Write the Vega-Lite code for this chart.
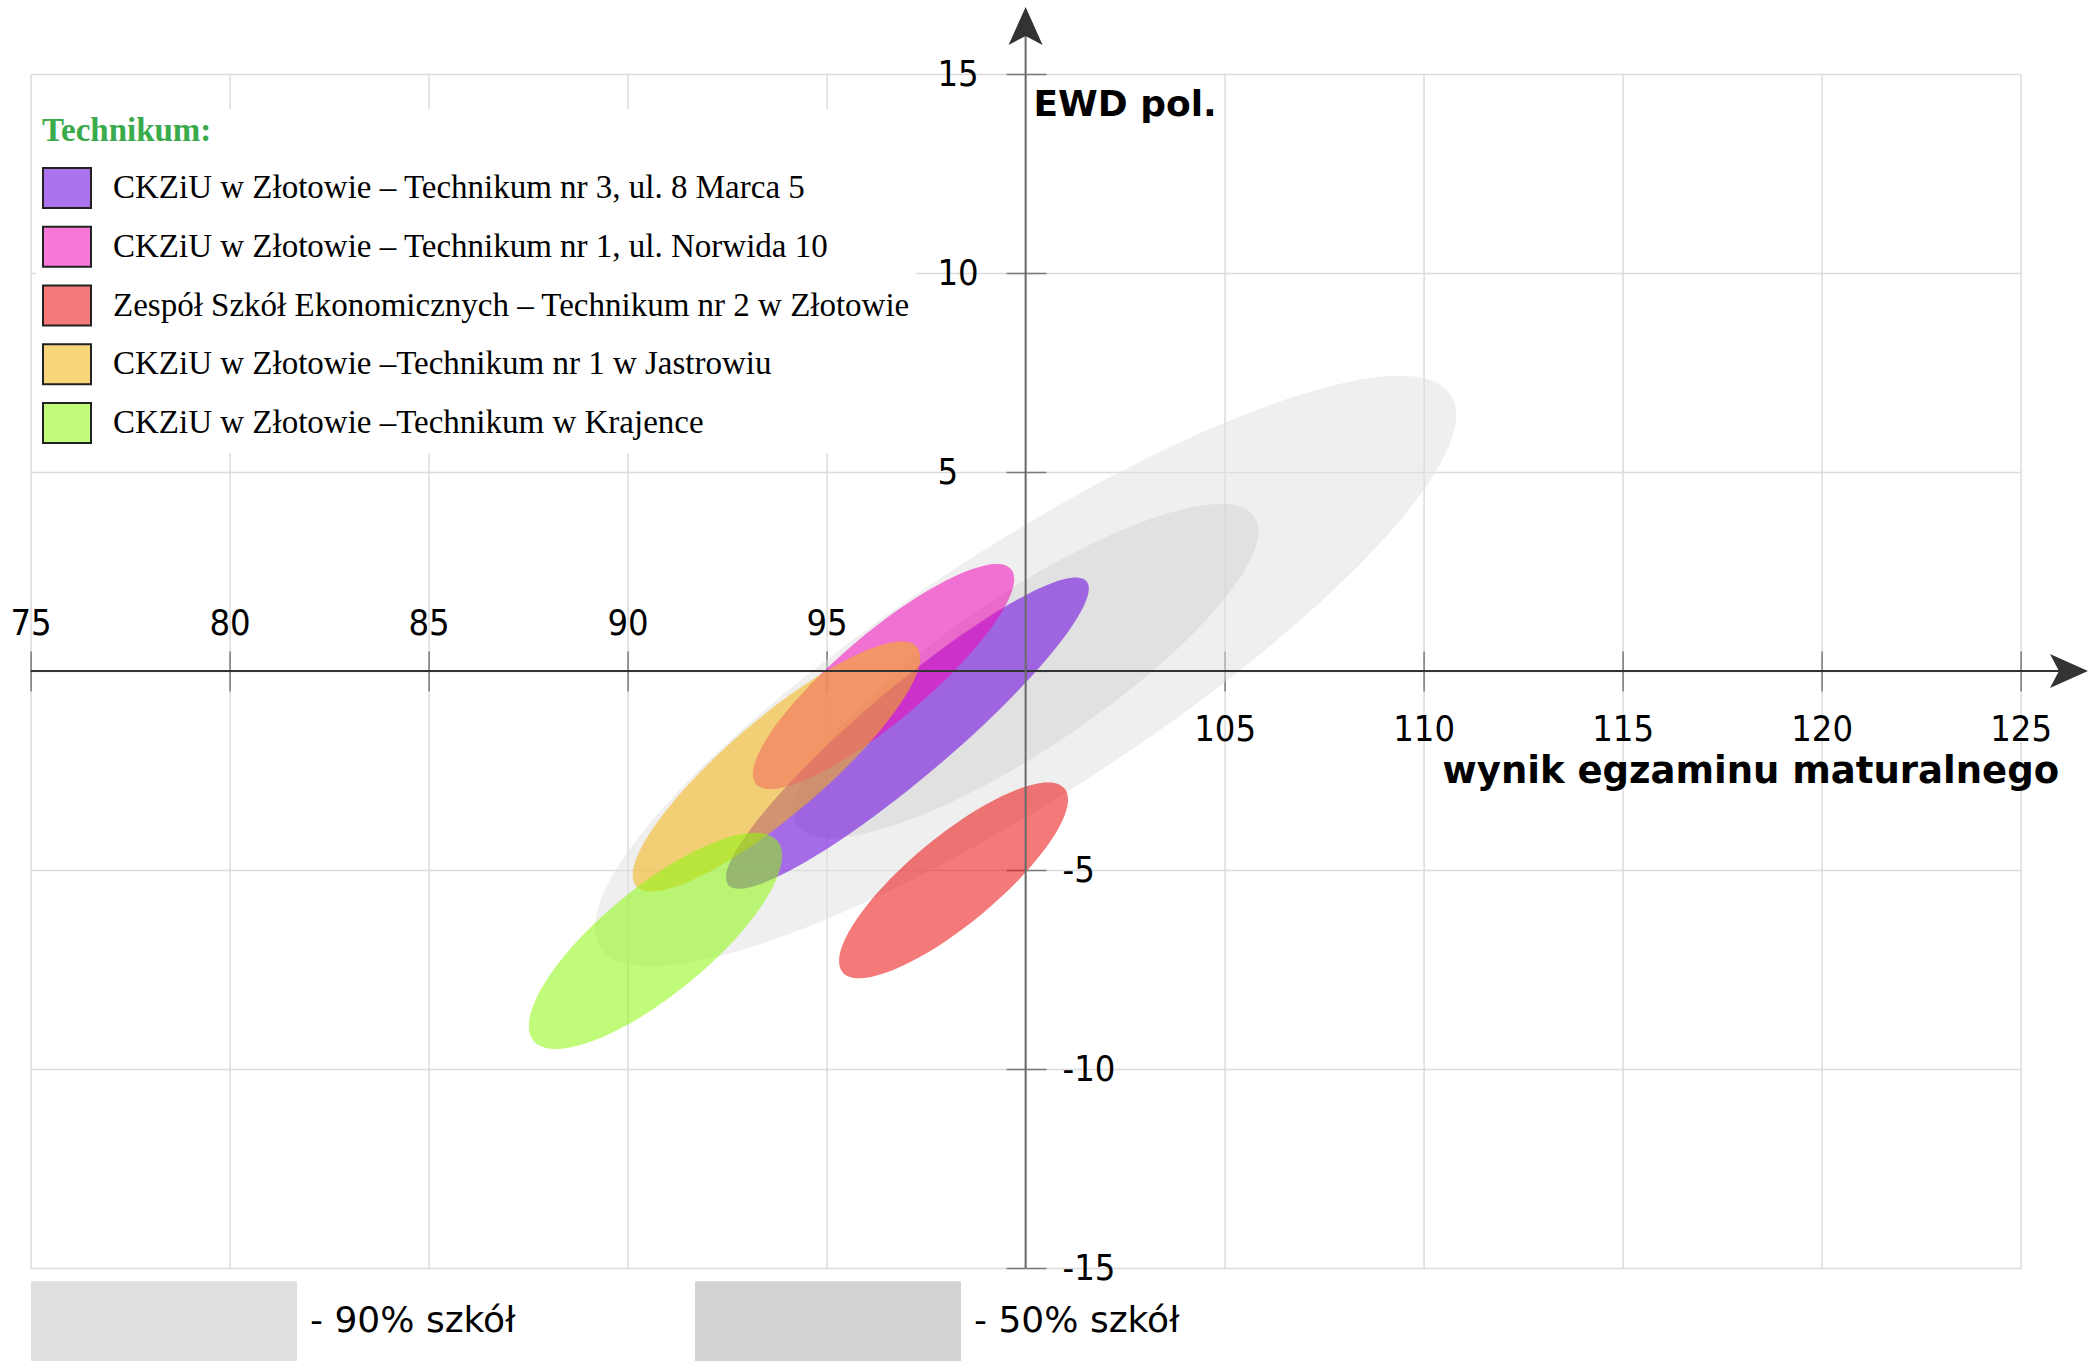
{
  "$schema": "https://vega.github.io/schema/vega-lite/v6.json",
  "width": 1990,
  "height": 1194,
  "autosize": {"type": "none"},
  "padding": {"left": 30.6, "top": 74, "right": 75.4, "bottom": 97},
  "background": "#ffffff",
  "config": {"view": {"stroke": null}},
  "datasets": {
    "obszary": [
      {"grupa": "90% szkół", "wynik": 100, "ewd": 0, "polos": 12.74, "kat": 33},
      {"grupa": "50% szkół", "wynik": 100, "ewd": 0, "polos": 6.93, "kat": 34}
    ],
    "szkoly": [
      {"szkola": "CKZiU w Złotowie – Technikum nr 3, ul. 8 Marca 5", "wynik": 97.03, "ewd": -1.56, "polos": 5.9, "kat": 40.3},
      {"szkola": "CKZiU w Złotowie – Technikum nr 1, ul. Norwida 10", "wynik": 96.43, "ewd": -0.14, "polos": 4.19, "kat": 40.1},
      {"szkola": "Zespół Szkół Ekonomicznych – Technikum nr 2 w Złotowie", "wynik": 98.19, "ewd": -5.26, "polos": 3.62, "kat": 39.6},
      {"szkola": "CKZiU w Złotowie –Technikum nr 1 w Jastrowiu", "wynik": 93.74, "ewd": -2.4, "polos": 4.63, "kat": 40.4},
      {"szkola": "CKZiU w Złotowie –Technikum w Krajence", "wynik": 90.7, "ewd": -6.78, "polos": 3.96, "kat": 39.3}
    ]
  },
  "resolve": {"axis": {"x": "independent", "y": "independent"}},
  "layer": [
    {
      "data": {"name": "obszary"},
      "mark": {"type": "point", "filled": true, "opacity": 0.5, "strokeWidth": 0},
      "encoding": {
        "x": {"field": "wynik", "type": "quantitative",
          "scale": {"domain": [75, 125], "nice": false, "zero": false},
          "axis": {"orient": "bottom", "offset": -597, "values": [75, 80, 85, 90, 95, 100, 105, 110, 115, 120, 125],
            "grid": true, "gridColor": "#dcdcdc", "gridWidth": 1.5, "domain": false,
            "ticks": true, "tickSize": 20, "tickColor": "#7a7a7a", "tickWidth": 1.5,
            "labelExpr": "datum.value > 100 ? datum.label : ''",
            "labelFont": "DejaVu Sans Condensed, DejaVu Sans", "labelFontSize": 36, "labelColor": "#000000",
            "labelBaseline": "alphabetic", "labelPadding": 49, "labelFlush": false, "labelOverlap": false,
            "title": "wynik egzaminu maturalnego", "titleFont": "DejaVu Sans", "titleFontWeight": "bold",
            "titleFontSize": 37, "titleColor": "#000000", "titleAlign": "right", "titleAnchor": null,
            "titleX": 2028, "titleY": 111, "titleBaseline": "alphabetic"}},
        "y": {"field": "ewd", "type": "quantitative",
          "scale": {"domain": [-15, 15], "nice": false, "zero": false},
          "axis": {"orient": "left", "offset": -995.4, "values": [-15, -10, -5, 0, 5, 10, 15],
            "grid": true, "gridColor": "#dcdcdc", "gridWidth": 1.5, "domain": false,
            "ticks": true, "tickSize": 20, "tickColor": "#7a7a7a", "tickWidth": 1.5,
            "labelExpr": "datum.value > 0 ? datum.label : ''",
            "labelFont": "DejaVu Sans Condensed, DejaVu Sans", "labelFontSize": 36, "labelColor": "#000000",
            "labelAlign": "left", "labelBaseline": "middle", "labelPadding": 69, "labelFlush": false, "labelOverlap": false,
            "title": "EWD pol.", "titleFont": "DejaVu Sans", "titleFontWeight": "bold",
            "titleFontSize": 36, "titleColor": "#000000", "titleAngle": 0, "titleAlign": "left", "titleAnchor": null,
            "titleX": 7, "titleY": 41, "titleBaseline": "alphabetic"}},
        "fill": {"field": "grupa", "type": "nominal",
          "scale": {"domain": ["90% szkół", "50% szkół"], "range": ["#e0e0e0", "#d3d3d3"]},
          "legend": {"orient": "none", "direction": "horizontal", "legendX": 0.4, "legendY": 1114, "title": null,
            "padding": 0, "symbolType": "M -1 -0.3 H 1 V 0.3 H -1 Z", "symbolSize": 70756, "symbolOpacity": 1,
            "symbolStrokeWidth": 0, "labelExpr": "'- ' + datum.label", "labelFont": "DejaVu Sans", "labelFontSize": 36,
            "labelColor": "#000000", "labelOffset": 13, "labelLimit": 1000, "columnPadding": 179}},
        "shape": {"field": "grupa", "type": "nominal", "legend": null,
          "scale": {"domain": ["90% szkół", "50% szkół",
            "CKZiU w Złotowie – Technikum nr 3, ul. 8 Marca 5", "CKZiU w Złotowie – Technikum nr 1, ul. Norwida 10",
            "Zespół Szkół Ekonomicznych – Technikum nr 2 w Złotowie", "CKZiU w Złotowie –Technikum nr 1 w Jastrowiu",
            "CKZiU w Złotowie –Technikum w Krajence"],
            "range": ["M -1 0 A 1 0.245 0 1 1 1 0 A 1 0.245 0 1 1 -1 0 Z",
              "M -1 0 A 1 0.279 0 1 1 1 0 A 1 0.279 0 1 1 -1 0 Z",
              "M -1 0 A 1 0.19 0 1 1 1 0 A 1 0.19 0 1 1 -1 0 Z",
              "M -1 0 A 1 0.264 0 1 1 1 0 A 1 0.264 0 1 1 -1 0 Z",
              "M -1 0 A 1 0.305 0 1 1 1 0 A 1 0.305 0 1 1 -1 0 Z",
              "M -1 0 A 1 0.26 0 1 1 1 0 A 1 0.26 0 1 1 -1 0 Z",
              "M -1 0 A 1 0.34 0 1 1 1 0 A 1 0.34 0 1 1 -1 0 Z"]}},
        "size": {"field": "polos", "type": "quantitative", "legend": null,
          "scale": {"type": "pow", "exponent": 2, "domain": [0, 10], "range": [0, 633616], "zero": true}},
        "angle": {"field": "kat", "type": "quantitative", "scale": {"domain": [0, 360], "range": [360, 0]}}
      }
    },
    {
      "data": {"name": "szkoly"},
      "mark": {"type": "point", "filled": true, "fillOpacity": 0.55, "strokeWidth": 0},
      "encoding": {
        "x": {"field": "wynik", "type": "quantitative",
          "scale": {"domain": [75, 125], "nice": false, "zero": false},
          "axis": {"orient": "top", "offset": -597, "values": [75, 80, 85, 90, 95, 100, 105, 110, 115, 120, 125],
            "grid": false, "domain": false,
            "ticks": true, "tickSize": 20, "tickColor": "#7a7a7a", "tickWidth": 1.5,
            "labelExpr": "datum.value < 100 ? datum.label : ''",
            "labelFont": "DejaVu Sans Condensed, DejaVu Sans", "labelFontSize": 36, "labelColor": "#000000",
            "labelBaseline": "alphabetic", "labelPadding": 17, "labelFlush": false, "labelOverlap": false,
            "title": null}},
        "y": {"field": "ewd", "type": "quantitative",
          "scale": {"domain": [-15, 15], "nice": false, "zero": false},
          "axis": {"orient": "right", "offset": -994.6, "values": [-15, -10, -5, 0, 5, 10, 15],
            "grid": false, "domain": false,
            "ticks": true, "tickSize": 20, "tickColor": "#7a7a7a", "tickWidth": 1.5,
            "labelExpr": "datum.value < 0 ? '' + datum.value : ''",
            "labelFont": "DejaVu Sans Condensed, DejaVu Sans", "labelFontSize": 36, "labelColor": "#000000",
            "labelAlign": "left", "labelBaseline": "middle", "labelPadding": 16, "labelFlush": false, "labelOverlap": false,
            "title": null}},
        "color": {"field": "szkola", "type": "nominal",
          "scale": {"domain": ["CKZiU w Złotowie – Technikum nr 3, ul. 8 Marca 5", "CKZiU w Złotowie – Technikum nr 1, ul. Norwida 10",
            "Zespół Szkół Ekonomicznych – Technikum nr 2 w Złotowie", "CKZiU w Złotowie –Technikum nr 1 w Jastrowiu",
            "CKZiU w Złotowie –Technikum w Krajence"],
            "range": ["#6a00e0", "#f00ab8", "#eb0d0d", "#f4b411", "#8df80d"]},
          "legend": {"orient": "none", "direction": "vertical", "legendX": 5.4, "legendY": 35.3,
            "title": "Technikum:", "titleFont": "Liberation Serif", "titleFontSize": 33, "titleFontWeight": "bold",
            "titleColor": "#3aab4b", "titleAnchor": "start", "titlePadding": 14.7,
            "fillColor": "#ffffff", "padding": 6,
            "symbolType": "M -1 -0.833 H 1 V 0.833 H -1 Z", "symbolSize": 2304, "symbolOpacity": 1,
            "symbolStrokeColor": "#222222", "symbolStrokeWidth": 2,
            "labelFont": "Liberation Serif", "labelFontSize": 33, "labelColor": "#000000", "labelOffset": 21,
            "labelLimit": 1000, "rowPadding": 9.75,
            "encode": {"symbols": {"update": {"fillOpacity": {"value": 0.55}, "strokeOpacity": {"value": 1}}}}}},
        "shape": {"field": "szkola", "type": "nominal", "legend": null,
          "scale": {"domain": ["90% szkół", "50% szkół",
            "CKZiU w Złotowie – Technikum nr 3, ul. 8 Marca 5", "CKZiU w Złotowie – Technikum nr 1, ul. Norwida 10",
            "Zespół Szkół Ekonomicznych – Technikum nr 2 w Złotowie", "CKZiU w Złotowie –Technikum nr 1 w Jastrowiu",
            "CKZiU w Złotowie –Technikum w Krajence"],
            "range": ["M -1 0 A 1 0.245 0 1 1 1 0 A 1 0.245 0 1 1 -1 0 Z",
              "M -1 0 A 1 0.279 0 1 1 1 0 A 1 0.279 0 1 1 -1 0 Z",
              "M -1 0 A 1 0.19 0 1 1 1 0 A 1 0.19 0 1 1 -1 0 Z",
              "M -1 0 A 1 0.264 0 1 1 1 0 A 1 0.264 0 1 1 -1 0 Z",
              "M -1 0 A 1 0.305 0 1 1 1 0 A 1 0.305 0 1 1 -1 0 Z",
              "M -1 0 A 1 0.26 0 1 1 1 0 A 1 0.26 0 1 1 -1 0 Z",
              "M -1 0 A 1 0.34 0 1 1 1 0 A 1 0.34 0 1 1 -1 0 Z"]}},
        "size": {"field": "polos", "type": "quantitative", "legend": null,
          "scale": {"type": "pow", "exponent": 2, "domain": [0, 10], "range": [0, 633616], "zero": true}},
        "angle": {"field": "kat", "type": "quantitative", "scale": {"domain": [0, 360], "range": [360, 0]}}
      }
    },
    {
      "data": {"values": [{"od": 75, "do": 126, "ewd": 0}]},
      "mark": {"type": "rule", "color": "#333333", "strokeWidth": 2},
      "encoding": {
        "x": {"field": "od", "type": "quantitative", "axis": null},
        "x2": {"field": "do"},
        "y": {"field": "ewd", "type": "quantitative", "axis": null}
      }
    },
    {
      "data": {"values": [{"wynik": 100, "od": -15, "do": 16}]},
      "mark": {"type": "rule", "color": "#6a6a6a", "strokeWidth": 2},
      "encoding": {
        "x": {"field": "wynik", "type": "quantitative", "axis": null},
        "y": {"field": "od", "type": "quantitative", "axis": null},
        "y2": {"field": "do"}
      }
    },
    {
      "data": {"values": [{"wynik": 100, "ewd": 16.18, "kat": 90}, {"wynik": 126.19, "ewd": 0, "kat": 0}]},
      "mark": {"type": "point", "filled": true, "color": "#333333", "opacity": 1, "size": 1600,
        "shape": "M 1 0 L -0.9 -0.85 L -0.45 0 L -0.9 0.85 Z", "strokeWidth": 0},
      "encoding": {
        "x": {"field": "wynik", "type": "quantitative", "axis": null},
        "y": {"field": "ewd", "type": "quantitative", "axis": null},
        "angle": {"field": "kat", "type": "quantitative", "scale": {"domain": [0, 360], "range": [360, 0]}}
      }
    }
  ]
}
